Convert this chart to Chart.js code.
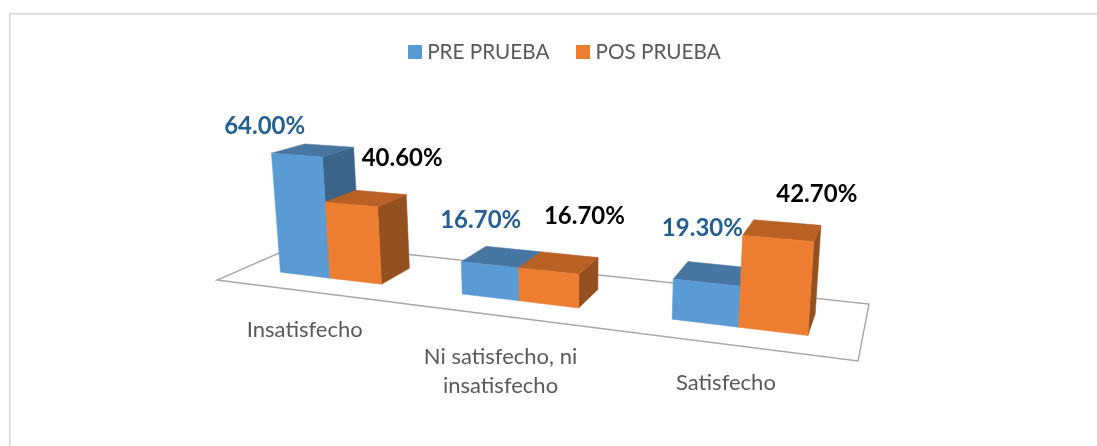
<!DOCTYPE html>
<html>
<head>
<meta charset="utf-8">
<style>
html,body{margin:0;padding:0;background:#fff;overflow:hidden}
#wrap{position:absolute;left:0;top:0;width:1097px;height:446px}
</style>
<script src="https://cdn.jsdelivr.net/npm/chart.js@4/dist/chart.umd.min.js"></script>
</head>
<body>
<div id="wrap"><canvas id="c" width="1097" height="446"></canvas></div>
<script>
const categories = ['Insatisfecho', ['Ni satisfecho, ni', 'insatisfecho'], 'Satisfecho'];
const preLabel = 'PRE PRUEBA';
const posLabel = 'POS PRUEBA';
const preValues = [64.00, 16.70, 19.30];
const posValues = [40.60, 16.70, 42.70];

const FONT = 'Lato, Carlito, Calibri, sans-serif';
const palette = [
  {front:'#5B9BD5', top:'#4776A2', side:'#3A6488', label:'#255E91'},
  {front:'#ED7D31', top:'#B96024', side:'#94501E', label:'#000000'}
];
// camera matrix: plot fractions (across, height, depth, 1) to screen
const CAMERA = [
  [463.5, -19.35, 125.6, 217],
  [6.3, -138.7, -4.3, 280],
  [-0.2069, -0.034, 0.1345, 1]
];
const DEPTH_FRONT = 0.30, DEPTH_BACK = 0.69;
const valueLabelOffsets = [
  [[-32,-29],[-9,-44],[-4,-54]],
  [[51,-46],[36,-55],[39,-44]]
];
const categoryLabelOffsets = [[0,39],[0,41],[-3,38]];

function project(u,v,w){
  const [X,Y,W]=CAMERA;
  const d=W[0]*u+W[1]*v+W[2]*w+W[3];
  return [(X[0]*u+X[1]*v+X[2]*w+X[3])/d,(Y[0]*u+Y[1]*v+Y[2]*w+Y[3])/d];
}
function poly(ctx,pts,fill,stroke,lw){
  ctx.beginPath();
  pts.forEach((p,i)=>i?ctx.lineTo(p[0],p[1]):ctx.moveTo(p[0],p[1]));
  ctx.closePath();
  if(fill){ctx.fillStyle=fill;ctx.fill();ctx.strokeStyle=fill;ctx.lineWidth=0.5;ctx.stroke();}
  if(stroke){ctx.strokeStyle=stroke;ctx.lineWidth=lw;ctx.stroke();}
}
const frameAndFloor = {
  id:'scene3d',
  beforeDatasetsDraw(chart){
    const ctx=chart.ctx, a=chart.chartArea;
    ctx.save();
    // frame
    ctx.fillStyle='#D9D9D9';
    ctx.fillRect(9,13,chart.width-9,1.6);
    ctx.fillRect(9,13,1.6,chart.height-13);
    // floor
    poly(ctx,[project(0,0,0),project(1,0,0),project(1,0,1),project(0,0,1)],null,'#A6A6A6',1.4);
    const toU=x=>(x-a.left)/a.width, toV=(y,b)=>(b-y)/a.height;
    // bars
    const n=chart.data.labels.length;
    for(let i=0;i<n;i++){
      chart.data.datasets.forEach((ds,k)=>{
        const el=chart.getDatasetMeta(k).data[i];
        const p=el.getProps(['x','y','base','width'],true);
        const u0=toU(p.x-p.width/2),u1=toU(p.x+p.width/2),v=toV(p.y,p.base),c=palette[k];
        const f=DEPTH_FRONT,b=DEPTH_BACK;
        poly(ctx,[project(u1,0,f),project(u1,v,f),project(u1,v,b),project(u1,0,b)],c.side);
        poly(ctx,[project(u0,v,f),project(u1,v,f),project(u1,v,b),project(u0,v,b)],c.top);
        poly(ctx,[project(u0,0,f),project(u1,0,f),project(u1,v,f),project(u0,v,f)],c.front);
      });
    }
    // value labels
    ctx.textAlign='center';ctx.textBaseline='middle';
    ctx.font='bold 24px '+FONT;
    chart.data.datasets.forEach((ds,k)=>{
      ds.data.forEach((val,i)=>{
        const p=chart.getDatasetMeta(k).data[i].getProps(['x','y','base'],true);
        const q=project(toU(p.x),toV(p.y,p.base),DEPTH_FRONT),o=valueLabelOffsets[k][i];
        ctx.fillStyle=palette[k].label;
        ctx.fillText(val.toFixed(2)+'%',q[0]+o[0],q[1]+o[1]);
      });
    });
    // category labels
    ctx.font='22px '+FONT;ctx.fillStyle='#595959';
    const xs=chart.scales.x;
    chart.data.labels.forEach((lab,i)=>{
      const q=project(toU(xs.getPixelForValue(i)),0,0),o=categoryLabelOffsets[i];
      [].concat(lab).forEach((t,j)=>ctx.fillText(t,q[0]+o[0],q[1]+o[1]+j*29.5));
    });
    ctx.restore();
    return false;
  }
};
function swatch(color){
  const s=document.createElement('canvas');s.width=14;s.height=14;
  const g=s.getContext('2d');g.fillStyle=color;g.fillRect(0,0,14,14);return s;
}
new Chart(document.getElementById('c'),{
  type:'bar',
  plugins:[frameAndFloor],
  data:{labels:categories,datasets:[
    {label:preLabel,data:preValues,backgroundColor:palette[0].front},
    {label:posLabel,data:posValues,backgroundColor:palette[1].front}
  ]},
  options:{
    responsive:false,animation:false,
    layout:{padding:{left:37,top:9.4,right:0,bottom:0}},
    datasets:{bar:{categoryPercentage:0.573,barPercentage:1}},
    scales:{
      x:{display:false},
      y:{display:false,min:0,max:70}
    },
    plugins:{
      tooltip:{enabled:false},
      legend:{position:'top',labels:{
        usePointStyle:true,boxWidth:3.5,boxHeight:14,padding:32.25,color:'#595959',
        font:{family:FONT,size:20.7},
        generateLabels(chart){
          return Chart.defaults.plugins.legend.labels.generateLabels(chart).map((l,i)=>{l.pointStyle=swatch(palette[i].front);return l;});
        }
      }}
    }
  }
});
</script>
</body>
</html>
